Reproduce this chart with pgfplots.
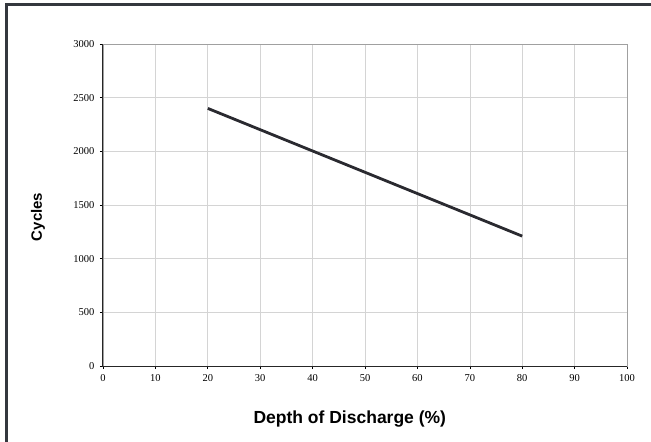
\documentclass[border=0pt]{standalone}
\usepackage{fontspec}
\setmainfont{Liberation Serif}
\setsansfont{Liberation Sans}
\usepackage{pgfplots}
\pgfplotsset{compat=1.18}

\definecolor{framec}{RGB}{52,56,62}
\definecolor{gridc}{RGB}{212,212,212}
\definecolor{boxc}{RGB}{160,160,160}
\definecolor{linec}{RGB}{42,42,48}

\begin{document}
\begin{tikzpicture}
  \begin{axis}[
      at={(0pt,0pt)}, anchor=origin,
      scale only axis,
      width=524pt, height=322pt,
      xmin=0, xmax=100, ymin=0, ymax=3000,
      xtick={0,10,...,100},
      ytick={0,500,...,3000},
      grid=major,
      major grid style={gridc, line width=0.6pt},
      axis line style={boxc, line width=0.8pt},
      xtick pos=bottom, ytick pos=left,
      tick align=outside,
      major tick length=3pt,
      tick style={black, line width=0.6pt},
      /pgf/number format/assume math mode=true,
      /pgf/number format/1000 sep={},
      tick label style={font=\fontsize{10.5}{12}\selectfont},
      xticklabel style={yshift=-2pt},
      yticklabel style={xshift=-2pt},
      xlabel={Depth of Discharge (\%)},
      ylabel={Cycles},
      xlabel style={at={(axis description cs:0.471,-0.180)}, anchor=base,
        font=\sffamily\bfseries\fontsize{17.5}{20}\selectfont},
      ylabel style={at={(axis description cs:-0.124,0.463)}, anchor=center,
        font=\sffamily\bfseries\fontsize{15}{18}\selectfont},
    ]
    \addplot[linec, line width=2.8pt, mark=none] coordinates {
        (20, 2400)
        (80, 1210)
      };
  \end{axis}
  % dark left and bottom axis lines
  \draw[black!85, line width=1pt] (0pt,322pt) -- (0pt,0pt) -- (524pt,0pt);
  % outer frame, cut off at the right and bottom
  \draw[framec, line width=3pt] (-96pt,-90pt) -- (-96pt,361pt) -- (560pt,361pt);
  \pgfresetboundingbox
  \useasboundingbox (-103pt,-76pt) rectangle (548pt,366pt);
\end{tikzpicture}
\end{document}
